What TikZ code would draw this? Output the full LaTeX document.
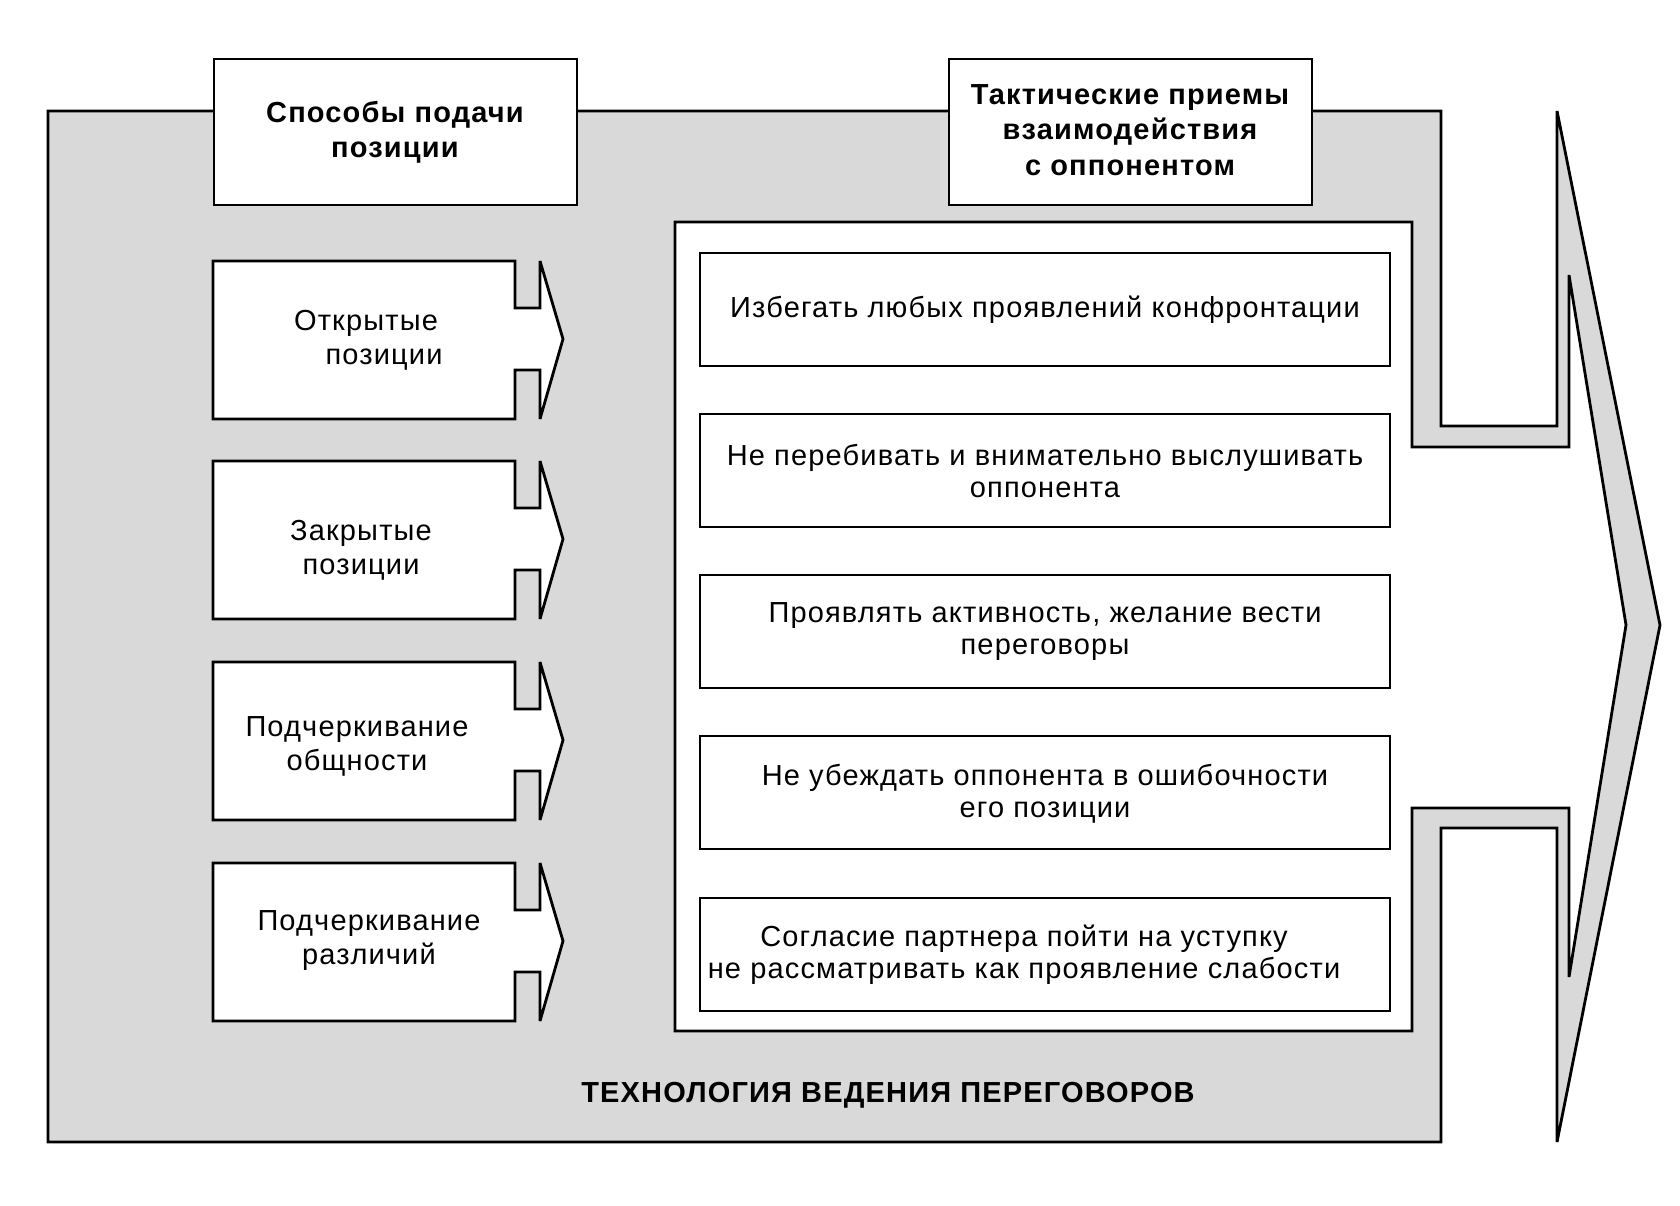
\documentclass[tikz,border=0pt]{standalone}
\usepackage{fontspec}
\setmainfont{Liberation Sans}[LetterSpace=4]
\tikzset{
  titletext/.style={align=center, font=\fontsize{14.5}{17.75}\selectfont\bfseries},
  waytext/.style={align=center, font=\fontsize{14.5}{17}\selectfont},
  ruletext/.style={align=center, font=\fontsize{14.5}{16}\selectfont}
}
\begin{document}
\begin{tikzpicture}[x=0.5pt,y=-0.5pt,line width=1.4pt,line join=miter,miter limit=4]
\useasboundingbox (0,0) rectangle (1680,1205);
% Outer grey block with the big arrow
\draw[fill=gray!30] (48,111) -- (1441,111) -- (1441,426) -- (1557,426) -- (1557,111)
  -- (1660,625) -- (1557,1142) -- (1557,828) -- (1441,828) -- (1441,1142) -- (48,1142) -- cycle;
% Inner white panel with its arrow
\draw[fill=white] (675,222) -- (1412,222) -- (1412,447) -- (1569,447) -- (1569,275)
  -- (1626,625) -- (1569,977) -- (1569,808) -- (1412,808) -- (1412,1031) -- (675,1031) -- cycle;
% Header boxes
\draw[fill=white] (214,59) rectangle (577,205);
\draw[fill=white] (949,59) rectangle (1312,205);
\node[titletext] (ways) at (395,132) {Способы подачи\\позиции};
\node[titletext] (tactics) at (1130,130) {Тактические приемы\\взаимодействия\\с оппонентом};
% Small arrows on the left
\foreach \t in {261,461,662,863}
  \draw[fill=white] (213,\t) -- (515,\t) -- (515,\t+47) -- (540,\t+47) -- (540,\t)
    -- (563,\t+78) -- (540,\t+158) -- (540,\t+109) -- (515,\t+109) -- (515,\t+158)
    -- (213,\t+158) -- cycle;
\node[waytext] (open) at (366,340) {Открытые\\\hspace*{18pt}позиции};
\node[waytext] (closed) at (361,550) {Закрытые\\позиции};
\node[waytext] (common) at (357,746) {Подчеркивание\\общности};
\node[waytext] (differ) at (369,941) {Подчеркивание\\различий};
% Rule boxes on the right
\foreach \t in {253,414,575,736,898}
  \draw[fill=white] (700,\t) rectangle (1390,\t+113);
\node[ruletext] (rule1) at (1045,310) {Избегать любых проявлений конфронтации};
\node[ruletext] (rule2) at (1045,471) {Не перебивать и внимательно выслушивать\\оппонента};
\node[ruletext] (rule3) at (1045,632) {Проявлять активность, желание вести\\переговоры};
\node[ruletext] (rule4) at (1045,794) {Не убеждать оппонента в ошибочности\\его позиции};
\node[ruletext] (rule5) at (1024,955) {Согласие партнера пойти на уступку\\не рассматривать как проявление слабости};
% Caption
\node[font=\fontsize{14.5}{16}\selectfont\bfseries] (techno) at (888,1095) {ТЕХНОЛОГИЯ ВЕДЕНИЯ ПЕРЕГОВОРОВ};
\end{tikzpicture}
\end{document}
